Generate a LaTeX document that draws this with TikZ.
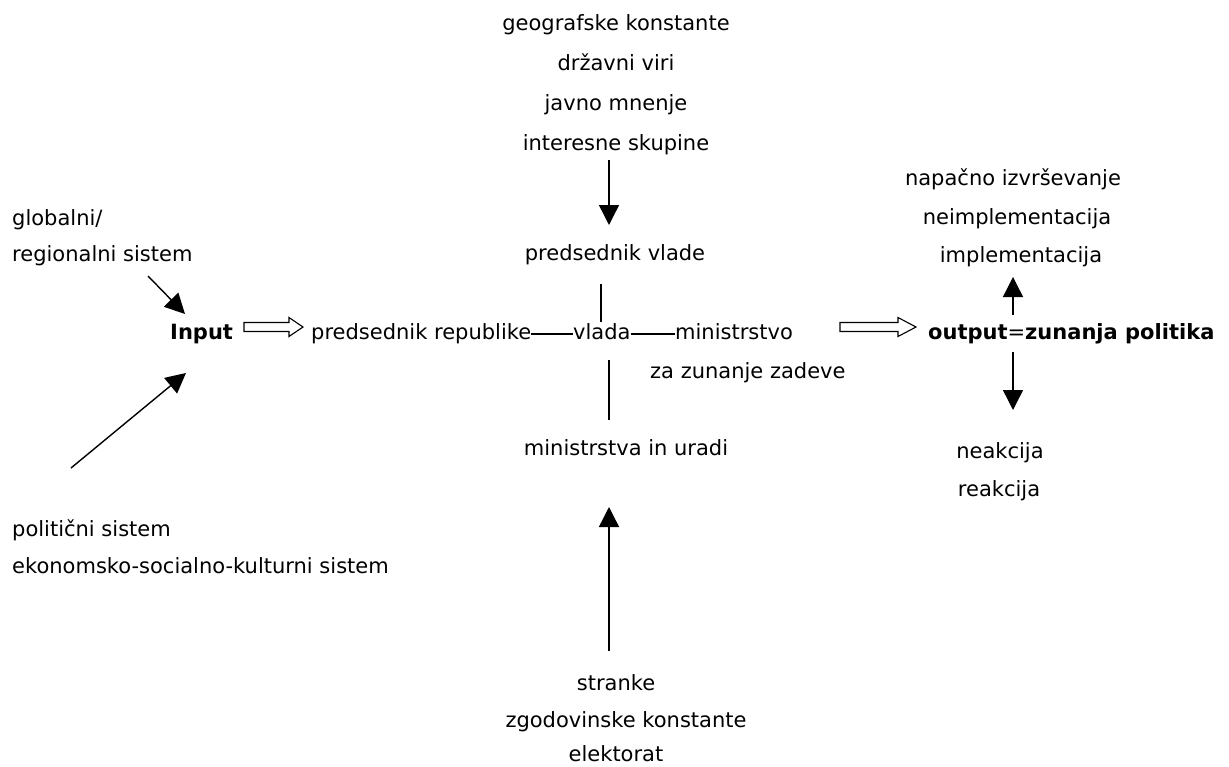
\documentclass[tikz,border=0pt]{standalone}
\usepackage{fontspec}
\setmainfont{DejaVu Sans}
\usetikzlibrary{arrows.meta,calc}
\begin{document}
\begin{tikzpicture}[x=1pt,y=-1pt,
  lbl/.style={inner sep=0pt, anchor=mid, font=\fontsize{21}{25}\selectfont},
  lblw/.style={lbl, anchor=mid west},
  conn/.style={line width=1.4pt},
  arr/.style={conn, -{Triangle[length=20pt,width=20pt]}},
  hollow/.style={line width=1.1pt, fill=white, line join=miter}]
\fontsize{21}{25}\selectfont
\useasboundingbox[fill=white] (0,0) rectangle (1229,766);

% top column
\node[lbl] (geo) at (616,25) {geografske konstante};
\node[lbl] (drz) at (616,65) {državni viri};
\node[lbl] (jav) at (616,105) {javno mnenje};
\node[lbl] (int) at (616,145) {interesne skupine};
\node[lbl] (pv)  at (615,255) {predsednik vlade};

% middle row
\node[lblw] (inp) at (170,334) {\textbf{Input}};
\node[lblw] (pr)  at (311,334) {predsednik republike};
\node[lblw] (vl)  at (573,334) {vlada};
\node[lblw] (mzz) at (675,334) {ministrstvo};
\node[lblw] (zz)  at (650,373) {za zunanje zadeve};
\node[lblw] (out) at (928,334) {\textbf{output}=\textbf{zunanja politika}};

% below
\node[lbl] (miu) at (626,450) {ministrstva in uradi};
\node[lbl] (str) at (616,685) {stranke};
\node[lbl] (zgo) at (626,722) {zgodovinske konstante};
\node[lbl] (ele) at (616,756) {elektorat};

% left
\node[lblw] (glo) at (12,220) {globalni/};
\node[lblw] (reg) at (12,256) {regionalni sistem};
\node[lblw] (pol) at (12,531) {politični sistem};
\node[lblw] (eko) at (12,568) {ekonomsko-socialno-kulturni sistem};

% right
\node[lbl] (nap) at (1013,180) {napačno izvrševanje};
\node[lbl] (nei) at (1017,219) {neimplementacija};
\node[lbl] (imp) at (1021,257) {implementacija};
\node[lbl] (nea) at (1000,453) {neakcija};
\node[lbl] (rea) at (999,491) {reakcija};

% connector end points
\coordinate (a1s) at (609,160);  \coordinate (a1e) at (609,225);
\coordinate (v1s) at (601,284);  \coordinate (v1e) at (601,322);
\coordinate (v2s) at (609,360);  \coordinate (v2e) at (609,420);
\coordinate (a2s) at (609,651);  \coordinate (a2e) at (609,507);
\coordinate (g1s) at (148,276);  \coordinate (g1e) at (185,314);
\coordinate (p1s) at (71,468);   \coordinate (p1e) at (186,373);
\coordinate (o1s) at (1013,315); \coordinate (o1e) at (1013,277);
\coordinate (o2s) at (1013,352); \coordinate (o2e) at (1013,410);
\coordinate (h1s) at (244,327);  \coordinate (h1e) at (303,327);
\coordinate (h2s) at (840,327);  \coordinate (h2e) at (916,327);

% black arrows
\draw[arr] (a1s) -- (a1e);
\draw[arr] (a2s) -- (a2e);
\draw[arr] (g1s) -- (g1e);
\draw[arr] (p1s) -- (p1e);
\draw[arr] (o1s) -- (o1e);
\draw[arr] (o2s) -- (o2e);

% plain lines
\draw[conn] (v1s) -- (v1e);
\draw[conn] (v2s) -- (v2e);
\draw[conn] (pr.mid east) -- (vl.mid west);
\draw[conn] (vl.mid east) -- (mzz.mid west);

% hollow arrows
\draw[hollow] ($(h1s)+(0,-4.5)$) -- ($(h1e)+(-14,-4.5)$) -- ($(h1e)+(-14,-9.5)$) -- (h1e)
  -- ($(h1e)+(-14,9.5)$) -- ($(h1e)+(-14,4.5)$) -- ($(h1s)+(0,4.5)$) -- cycle;
\draw[hollow] ($(h2s)+(0,-4.5)$) -- ($(h2e)+(-18,-4.5)$) -- ($(h2e)+(-18,-9.5)$) -- (h2e)
  -- ($(h2e)+(-18,9.5)$) -- ($(h2e)+(-18,4.5)$) -- ($(h2s)+(0,4.5)$) -- cycle;
\end{tikzpicture}
\end{document}
